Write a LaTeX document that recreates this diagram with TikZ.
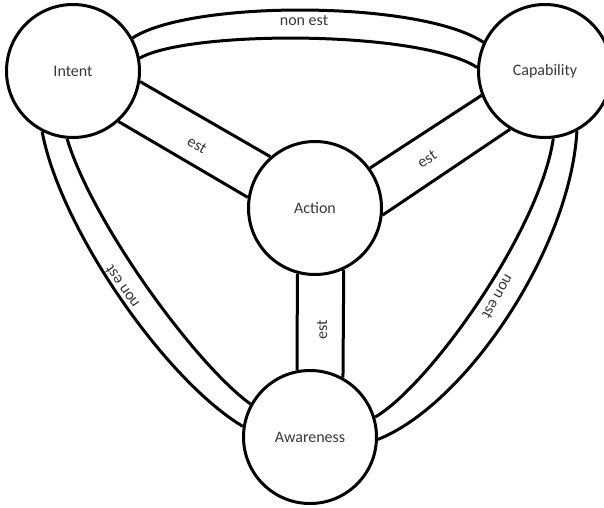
\documentclass[tikz,border=0pt]{standalone}
\usepackage{fontspec}
\setmainfont{Carlito}
\begin{document}
\begin{tikzpicture}[x=1pt,y=-1pt,
  state/.style={draw, circle, line width=3pt, minimum size=133pt, inner sep=0pt,
    text=black!78, font=\fontsize{16}{19}\selectfont},
  band/.style={line width=3pt},
  lbl/.style={text=black!78, font=\fontsize{16}{19}\selectfont, inner sep=1pt}]
\useasboundingbox (0,0) rectangle (604,507);
\node[state] (intent) at (73,71) {Intent};
\node[state] (capability) at (545,71) {Capability};
\node[state] (action) at (315,208) {Action};
\node[state] (awareness) at (310,437) {Awareness};
% est bands
\draw[band] (intent.-9) -- (action.131);
\draw[band] (intent.-48.5) -- (action.171.5);
\draw[band] (capability.201) -- (action.36);
\draw[band] (capability.239) -- (action.-6);
\draw[band] (action.-105.8) -- (awareness.101.2);
\draw[band] (action.-65.8) -- (awareness.61.3);
% non est bands
\draw[band] (intent.29.5) .. controls (190,0) and (420,0) .. (capability.155);
\draw[band] (intent.11) .. controls (190,30) and (420,30) .. (capability.177);
\draw[band] (intent.-117) .. controls (60,228) and (165,380) .. (awareness.171.5);
\draw[band] (intent.-95) .. controls (92,222) and (195,364) .. (awareness.151);
\draw[band] (capability.-62.3) .. controls (570,250) and (465,405) .. (awareness.-2.6);
\draw[band] (capability.-83) .. controls (540,230) and (430,385) .. (awareness.17.6);
% labels
\node[lbl] (lblTop) at (304,20) {non est};
\node[lbl, rotate=-30] (lblIA) at (197,145) {est};
\node[lbl, rotate=33] (lblCA) at (427,159) {est};
\node[lbl, rotate=90] (lblAA) at (322,330) {est};
\node[lbl, rotate=125] (lblLeft) at (122,287) {non est};
\node[lbl, rotate=-120] (lblRight) at (498,297) {non est};
\end{tikzpicture}
\end{document}
